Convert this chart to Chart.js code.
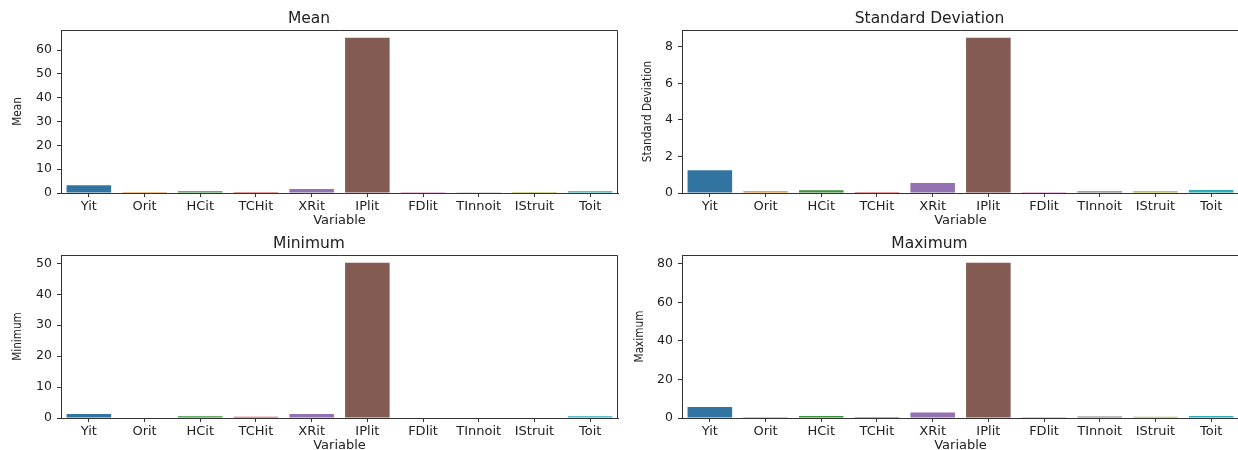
<!DOCTYPE html>
<html>
<head>
<meta charset="utf-8">
<script src="https://cdn.jsdelivr.net/npm/chart.js@4.4.0/dist/chart.umd.min.js"></script>
<style>
    html, body { margin: 0; padding: 0; background: #fff; overflow: hidden; width: 1238px; height: 450px; }
    .panel { position: absolute; width: 620px; height: 225px; }
</style>
</head>
<body>
<div class="panel" style="left:0;top:0"><canvas id="meanChart"></canvas></div>
<div class="panel" style="left:620px;top:0"><canvas id="stdChart"></canvas></div>
<div class="panel" style="left:0;top:225px"><canvas id="minChart"></canvas></div>
<div class="panel" style="left:620px;top:225px"><canvas id="maxChart"></canvas></div>
<script>
// ====================== DATA ======================
const variables = ['Yit', 'Orit', 'HCit', 'TCHit', 'XRit', 'IPlit', 'FDlit', 'TInnoit', 'IStruit', 'Toit'];

const meanValues = [3.3, 0.05, 0.7, 0.4, 1.7, 65.2, 0.03, 0.3, 0.4, 0.7];
const stdValues  = [1.24, 0.09, 0.15, 0.05, 0.55, 8.49, 0.05, 0.1, 0.09, 0.16];
const minValues  = [1.3, 0.0, 0.6, 0.4, 1.3, 50.2, 0.0, 0.2, 0.2, 0.6];
const maxValues  = [5.7, 0.5, 1.0, 0.5, 2.9, 80.5, 0.5, 0.8, 0.7, 1.0];

const meanTicks = [0, 10, 20, 30, 40, 50, 60];
const stdTicks  = [0, 2, 4, 6, 8];
const minTicks  = [0, 10, 20, 30, 40, 50];
const maxTicks  = [0, 20, 40, 60, 80];

// seaborn default palette (tab10 at 0.75 saturation)
const barColors = ['#3274a1', '#e1812c', '#3a923a', '#c03d3e', '#9372b2',
                   '#845b53', '#d684bd', '#7f7f7f', '#a9aa35', '#2eabb8'];

// ====================== CHARTS ======================
Chart.defaults.color = '#222';
Chart.defaults.font.family = '"DejaVu Sans", sans-serif';

const AXIS_COLOR = '#333';
const Y_TITLE_FONT = '"DejaVu Sans Condensed", sans-serif';

// top and right spines, as in matplotlib
const framePlugin = {
    id: 'frame',
    afterDraw(chart) {
        const { ctx, chartArea: { left, top, right, bottom } } = chart;
        ctx.save();
        ctx.strokeStyle = AXIS_COLOR;
        ctx.lineWidth = 1;
        ctx.beginPath();
        ctx.moveTo(left, Math.round(top) + 0.5);
        ctx.lineTo(Math.round(right) - 0.5, Math.round(top) + 0.5);
        ctx.lineTo(Math.round(right) - 0.5, bottom);
        ctx.stroke();
        ctx.restore();
    }
};

function createStatChart(canvasId, title, values, ticks, axisWidth, yTitlePad, padRight) {
    const ctx = document.getElementById(canvasId).getContext('2d');
    const yMax = Math.max(...values) * 1.05;
    const step = ticks[1] - ticks[0];

    return new Chart(ctx, {
        type: 'bar',
        data: {
            labels: variables,
            datasets: [{
                data: values,
                backgroundColor: barColors,
                borderWidth: 0,
                categoryPercentage: 0.8,
                barPercentage: 1.0
            }]
        },
        options: {
            responsive: true,
            maintainAspectRatio: false,
            animation: false,
            layout: { padding: { left: 0, right: padRight, top: 0, bottom: 0 } },
            plugins: {
                legend: { display: false },
                tooltip: { enabled: false },
                title: {
                    display: true,
                    text: title,
                    color: '#222',
                    font: { size: 15.5, weight: 'normal', lineHeight: 1 },
                    padding: { top: 11.5, bottom: 3 }
                }
            },
            scales: {
                x: {
                    afterFit: scale => { scale.height = 32; },
                    grid: { display: true, drawOnChartArea: false, drawTicks: true, tickLength: 4, offset: false, color: AXIS_COLOR },
                    border: { display: true, color: AXIS_COLOR, width: 1 },
                    ticks: { padding: 2, font: { size: 13 }, maxRotation: 0, minRotation: 0, autoSkip: false },
                    title: { display: true, text: 'Variable', font: { size: 13, lineHeight: 0.65 }, padding: { top: 0, bottom: 0 } }
                },
                y: {
                    min: 0,
                    max: yMax,
                    afterFit: scale => { scale.width = axisWidth; },
                    grid: { display: true, drawOnChartArea: false, drawTicks: true, tickLength: 4, color: AXIS_COLOR },
                    border: { display: true, color: AXIS_COLOR, width: 1 },
                    ticks: { stepSize: step, includeBounds: false, padding: 5, font: { size: 12.5 } },
                    title: {
                        display: true,
                        text: title,
                        font: { family: Y_TITLE_FONT, size: 11.7, lineHeight: 1 },
                        padding: { top: yTitlePad, bottom: 0 }
                    }
                }
            }
        },
        plugins: [framePlugin]
    });
}

createStatChart('meanChart', 'Mean', meanValues, meanTicks, 61, 12.5, 2);
createStatChart('stdChart', 'Standard Deviation', stdValues, stdTicks, 62, 22.5, 1);
createStatChart('minChart', 'Minimum', minValues, minTicks, 61, 12.5, 2);
createStatChart('maxChart', 'Maximum', maxValues, maxTicks, 62, 14.5, 1);
</script>
</body>
</html>
